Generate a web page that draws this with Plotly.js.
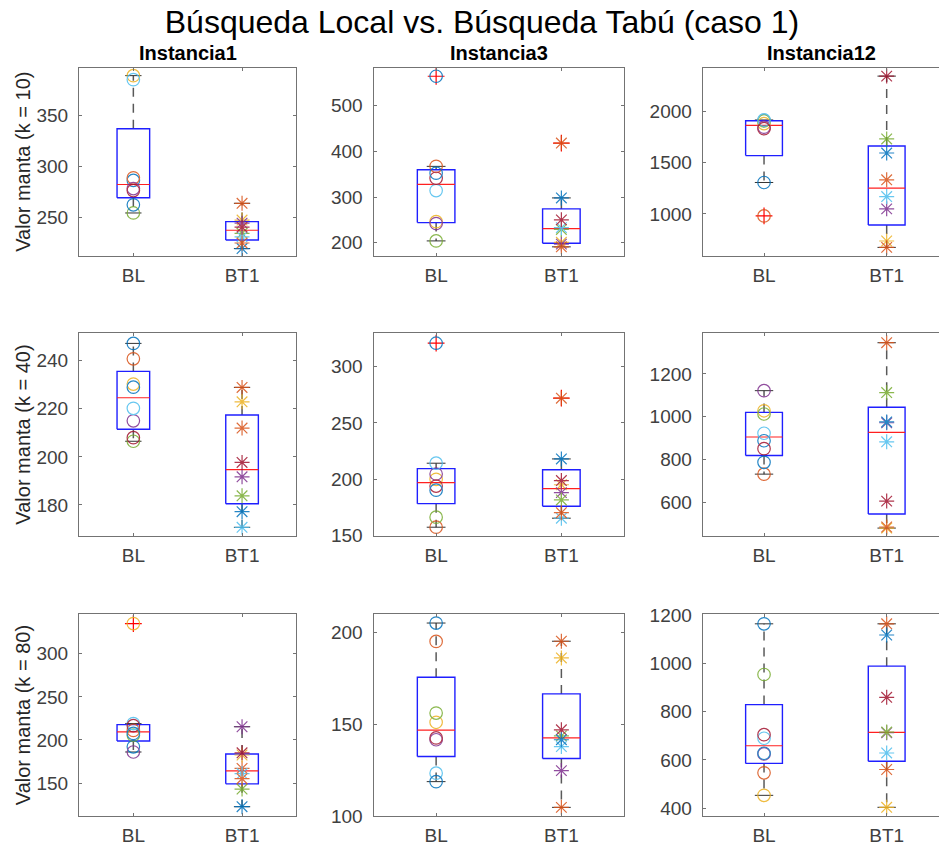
<!DOCTYPE html>
<html>
<head>
<meta charset="utf-8">
<script src="https://cdn.plot.ly/plotly-3.0.1.min.js"></script>
<style>
html,body{margin:0;padding:0;background:#fff;overflow:hidden;}
#chart{width:950px;height:847px;}
</style>
</head>
<body>
<div id="chart"></div>
<script>
// ---------------- DATA ----------------
const instances = ['Instancia1', 'Instancia3', 'Instancia12'];
const kValues = [10, 40, 80];
const groupLabels = ['BL', 'BT1'];

// k = 10
const BL_k10_I1  = [286, 288.5, 389, 278, 254, 385, 276, 262];
const BT1_k10_I1 = [263.5, 247, 244, 234, 230.5, 240, 219, 224.5];
const BL_k10_I3  = [564, 367, 246, 242, 204, 314, 341, 352];
const BT1_k10_I3 = [418, 201, 197, 229, 233, 250, 298, 191];
const BL_k10_I12 = [1910, 980, 1880, 1845, 1905, 1915, 1830, 1306];
const BT1_k10_I12 = [1332, 736, 1049, 1730, 1169, 2342, 1593, 674];
// k = 40
const BL_k40_I1  = [247.2, 240.8, 230.3, 215, 206.5, 220.2, 208, 229];
const BT1_k40_I1 = [228.9, 222.9, 191.7, 183.8, 170.7, 197.7, 177.2, 212];
const BL_k40_I3  = [320.8, 157.5, 200, 204.7, 166.4, 214.3, 194, 190.4];
const BT1_k40_I3 = [272, 195.2, 188.2, 181.7, 165.5, 198.9, 218.1, 170.4];
const BL_k40_I12 = [888, 732, 1028, 1122, 1013, 923, 851, 787];
const BT1_k40_I12 = [1346, 480, 972, 1113, 883, 606, 976, 485];
// k = 80
const BL_k80_I1  = [192, 211, 335, 186, 205.5, 219, 216.5, 207.5];
const BT1_k80_I1 = [167, 182.5, 215.3, 143, 161, 185, 122.5, 155];
const BL_k80_I3  = [205, 195, 151, 141.5, 156, 123.3, 142.5, 118.7];
const BT1_k80_I3 = [195.1, 186, 124.7, 143.6, 137.8, 146.9, 141.5, 104.7];
const BL_k80_I12 = [1164, 546.7, 453.6, 625, 954, 690, 705, 628];
const BT1_k80_I12 = [1164, 404, 713, 715.5, 629, 859.6, 1117.7, 560.6];

// panels, row-major: [BL, BT1]
const panelData = [
  [BL_k10_I1, BT1_k10_I1], [BL_k10_I3, BT1_k10_I3], [BL_k10_I12, BT1_k10_I12],
  [BL_k40_I1, BT1_k40_I1], [BL_k40_I3, BT1_k40_I3], [BL_k40_I12, BT1_k40_I12],
  [BL_k80_I1, BT1_k80_I1], [BL_k80_I3, BT1_k80_I3], [BL_k80_I12, BT1_k80_I12]
];

// ---------------- STYLE / LAYOUT ----------------
const W = 950, H = 847;
const colorOrder = ['#0072BD','#D95319','#EDB120','#7E2F8E','#77AC30','#4DBEEE','#A2142F'];
const colPx = [[79, 296.4], [373.5, 624], [702.7, 948]];
const rowPx = [[67.7, 256], [333.3, 536], [614.4, 816]];
const yRanges = [
  [211.7, 396.8], [171, 582.7], [590, 2424],
  [167.1, 251.4], [149.7, 329.6], [443, 1390],
  [111.7, 345.7], [100, 209.7], [368, 1203]
];
const yDticks = [50, 100, 500, 20, 50, 200, 50, 50, 200];
const FONT = '"Liberation Sans", Arial, Helvetica, sans-serif';
const axisCol = '#737373';
const tickTxt = '#404040';
const boxHalf = 0.15, capHalf = 0.075;

function prctile(sorted, p) {
  const n = sorted.length;
  const pos = n * p / 100 + 0.5;
  if (pos <= 1) return sorted[0];
  if (pos >= n) return sorted[n - 1];
  const lo = Math.floor(pos), f = pos - lo;
  return sorted[lo - 1] + f * (sorted[lo] - sorted[lo - 1]);
}
function boxStats(vals) {
  const s = vals.slice().sort((a, b) => a - b);
  const q1 = prctile(s, 25), q2 = prctile(s, 50), q3 = prctile(s, 75);
  const iqr = q3 - q1;
  const hiF = q3 + 1.5 * iqr, loF = q1 - 1.5 * iqr;
  const inside = s.filter(v => v >= loF && v <= hiF);
  return {q1, q2, q3, lo: Math.min(...inside), hi: Math.max(...inside),
          out: s.filter(v => v < loF || v > hiF)};
}

const traces = [];
const layout = {
  width: W, height: H,
  margin: {l: 0, r: 0, t: 0, b: 0},
  paper_bgcolor: '#fff', plot_bgcolor: '#fff',
  showlegend: false,
  hovermode: false,
  font: {family: FONT, color: tickTxt},
  title: {
    text: 'Búsqueda Local vs. Búsqueda Tabú (caso 1)',
    font: {family: FONT, size: 32, color: '#000'},
    xref: 'container', yref: 'container',
    x: 482 / W, y: 1 - 22 / H, xanchor: 'center', yanchor: 'middle'
  },
  annotations: []
};

panelData.forEach((pair, p) => {
  const r = Math.floor(p / 3), c = p % 3;
  const sfx = p === 0 ? '' : String(p + 1);
  const xa = 'x' + sfx, ya = 'y' + sfx;

  layout['xaxis' + sfx] = {
    domain: [colPx[c][0] / W, colPx[c][1] / W],
    anchor: ya, range: [0.5, 2.5],
    tickvals: [1, 2], ticktext: groupLabels,
    showgrid: false, zeroline: false,
    showline: true, mirror: 'ticks', linecolor: axisCol, linewidth: 1,
    ticks: 'inside', ticklen: 3, tickcolor: axisCol,
    tickfont: {family: FONT, size: 19, color: tickTxt},
    ticklabelstandoff: 2, fixedrange: true
  };
  layout['yaxis' + sfx] = {
    domain: [1 - rowPx[r][1] / H, 1 - rowPx[r][0] / H],
    anchor: xa, range: yRanges[p],
    tick0: 0, dtick: yDticks[p],
    showgrid: false, zeroline: false,
    showline: true, mirror: 'ticks', linecolor: axisCol, linewidth: 1,
    ticks: 'inside', ticklen: 3, tickcolor: axisCol,
    tickfont: {family: FONT, size: 19, color: tickTxt},
    ticklabelstandoff: 6, fixedrange: true
  };

  const bx = [], by = [], mx = [], my = [], wx = [], wy = [], cx = [], cy = [], ox = [], oy = [];
  pair.forEach((vals, g) => {
    const xc = g + 1;
    const st = boxStats(vals);
    bx.push(xc - boxHalf, xc + boxHalf, xc + boxHalf, xc - boxHalf, xc - boxHalf, null);
    by.push(st.q1, st.q1, st.q3, st.q3, st.q1, null);
    mx.push(xc - boxHalf, xc + boxHalf, null);
    my.push(st.q2, st.q2, null);
    wx.push(xc, xc, null, xc, xc, null);
    wy.push(st.q3, st.hi, null, st.q1, st.lo, null);
    cx.push(xc - capHalf, xc + capHalf, null, xc - capHalf, xc + capHalf, null);
    cy.push(st.hi, st.hi, null, st.lo, st.lo, null);
    st.out.forEach(v => { ox.push(xc); oy.push(v); });
  });

  traces.push({type: 'scatter', mode: 'lines', x: wx, y: wy, xaxis: xa, yaxis: ya,
    line: {color: '#5a5a5a', width: 1.5, dash: '9px,7px'}, hoverinfo: 'skip'});
  traces.push({type: 'scatter', mode: 'lines', x: cx, y: cy, xaxis: xa, yaxis: ya,
    line: {color: '#333', width: 1}, hoverinfo: 'skip'});
  traces.push({type: 'scatter', mode: 'lines', x: bx, y: by, xaxis: xa, yaxis: ya,
    line: {color: '#1f1fff', width: 1.4}, hoverinfo: 'skip'});
  traces.push({type: 'scatter', mode: 'lines', x: mx, y: my, xaxis: xa, yaxis: ya,
    line: {color: '#ff2020', width: 1.2}, hoverinfo: 'skip'});
  traces.push({type: 'scatter', mode: 'markers', x: ox, y: oy, xaxis: xa, yaxis: ya,
    marker: {symbol: 'cross-thin-open', size: 12, color: '#ff0000', line: {width: 1.2, color: '#ff0000'}},
    hoverinfo: 'skip'});

  const nBL = pair[0].length;
  const blCols = pair[0].map((v, i) => colorOrder[i % 7]);
  const btCols = pair[1].map((v, i) => colorOrder[(nBL + i) % 7]);
  traces.push({type: 'scatter', mode: 'markers', x: pair[0].map(() => 1), y: pair[0],
    xaxis: xa, yaxis: ya, opacity: 0.85,
    marker: {symbol: 'circle-open', size: 12.5, color: blCols, line: {width: 1.2, color: blCols}},
    hoverinfo: 'skip'});
  traces.push({type: 'scatter', mode: 'markers', x: pair[1].map(() => 2), y: pair[1],
    xaxis: xa, yaxis: ya, opacity: 0.85,
    marker: {symbol: 'asterisk-open', size: 12.5, color: btCols, line: {width: 1.2, color: btCols}},
    hoverinfo: 'skip'});
});

// column titles
instances.forEach((name, c) => {
  layout.annotations.push({
    text: name, xref: 'paper', yref: 'paper',
    x: (colPx[c][0] + colPx[c][1]) / 2 / W - (c === 2 ? 4 / W : 0), y: 1 - 53 / H,
    xanchor: 'center', yanchor: 'middle', showarrow: false,
    font: {family: FONT, size: 20, color: '#000', weight: 'bold'}
  });
});
// row labels
kValues.forEach((k, r) => {
  layout.annotations.push({
    text: 'Valor manta (k = ' + k + ')', xref: 'paper', yref: 'paper',
    x: 23 / W, y: 1 - (rowPx[r][0] + rowPx[r][1]) / 2 / H,
    xanchor: 'center', yanchor: 'middle', textangle: -90, showarrow: false,
    font: {family: FONT, size: 20, color: '#262626'}
  });
});

Plotly.newPlot('chart', traces, layout, {displayModeBar: false, staticPlot: true});
</script>
</body>
</html>
